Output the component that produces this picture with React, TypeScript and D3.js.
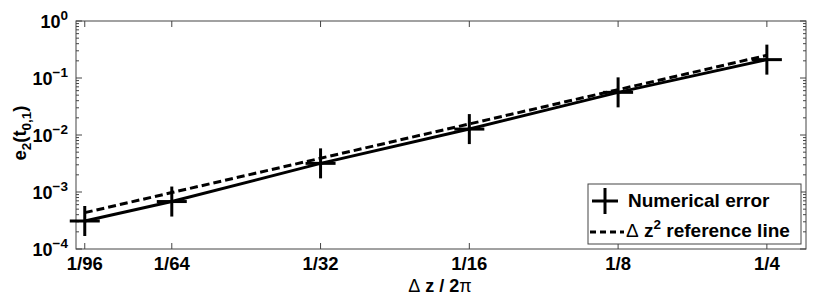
import React from 'react';
import * as d3 from 'd3';

// step sizes (dz / 2pi) and tick labels
const steps = [1 / 96, 1 / 64, 1 / 32, 1 / 16, 1 / 8, 1 / 4];
const stepLabels = ['1/96', '1/64', '1/32', '1/16', '1/8', '1/4'];

// measured error e2(t_0,1)
const numericalError = [3.1e-4, 6.8e-4, 3.18e-3, 1.27e-2, 5.6e-2, 0.21];
// dz^2 reference line
const referenceLine = [4.34e-4, 9.77e-4, 3.91e-3, 1.5625e-2, 6.25e-2, 0.25];

const yExponents = [-4, -3, -2, -1, 0];

const W = 830;
const H = 308;
const margin = { top: 21, right: 24, bottom: 59, left: 76 };

const FONT = 'Liberation Sans, Arial, Helvetica, sans-serif';

const App: React.FC = () => {
  const x = d3.scaleLog().domain([0.01, 0.3]).range([margin.left, W - margin.right]);
  const y = d3.scaleLog().domain([1e-4, 1]).range([H - margin.bottom, margin.top]);

  const x0 = margin.left;
  const x1 = W - margin.right;
  const y0 = H - margin.bottom;
  const y1 = margin.top;

  const line = d3.line<number>()
    .x((_, i) => x(steps[i]))
    .y(d => y(d));

  // minor ticks 2..9 in every decade
  const minorTicks: number[] = [];
  yExponents.slice(0, -1).forEach(e => {
    for (let k = 2; k <= 9; k++) minorTicks.push(k * Math.pow(10, e));
  });

  const axisColor = '#444';
  const markerSize = 15;

  return (
    <svg width={W} height={H} style={{ position: 'absolute', left: 0, top: 0, background: '#fff' }}
      fontFamily={FONT}>
      {/* minor y ticks */}
      {minorTicks.map((v, i) => (
        <g key={'m' + i} stroke={axisColor} strokeWidth={1}>
          <line x1={x0} x2={x0 + 3} y1={y(v)} y2={y(v)} />
          <line x1={x1} x2={x1 - 3} y1={y(v)} y2={y(v)} />
        </g>
      ))}
      {/* major y ticks + labels */}
      {yExponents.map(e => {
        const yy = y(Math.pow(10, e));
        return (
          <g key={'y' + e}>
            <line x1={x0} x2={x0 + 6} y1={yy} y2={yy} stroke={axisColor} />
            <line x1={x1} x2={x1 - 6} y1={yy} y2={yy} stroke={axisColor} />
            <text x={68} y={yy + 7} textAnchor="end" fontSize={18} fontWeight="bold">
              <tspan>10</tspan>
              <tspan dy={-8} fontSize={13.5}>{e === 0 ? '0' : '\u2212' + Math.abs(e)}</tspan>
            </text>
          </g>
        );
      })}
      {/* x ticks + labels */}
      {steps.map((s, i) => (
        <g key={'x' + i}>
          <line x1={x(s)} x2={x(s)} y1={y0} y2={y0 - 6} stroke={axisColor} />
          <line x1={x(s)} x2={x(s)} y1={y1} y2={y1 + 6} stroke={axisColor} />
          <text x={x(s)} y={270} textAnchor="middle" fontSize={18.5} fontWeight="bold">
            {stepLabels[i]}
          </text>
        </g>
      ))}
      {/* plot box */}
      <rect x={x0} y={y1} width={x1 - x0} height={y0 - y1} fill="none" stroke={axisColor} strokeWidth={1} />

      {/* reference line */}
      <path d={line(referenceLine) || ''} fill="none" stroke="#000" strokeWidth={3} strokeDasharray="8,4" />
      {/* numerical error */}
      <path d={line(numericalError) || ''} fill="none" stroke="#000" strokeWidth={3} />
      {numericalError.map((v, i) => (
        <g key={'p' + i} stroke="#000" strokeWidth={3}>
          <line x1={x(steps[i]) - markerSize} x2={x(steps[i]) + markerSize} y1={y(v)} y2={y(v)} />
          <line x1={x(steps[i])} x2={x(steps[i])} y1={y(v) - markerSize} y2={y(v) + markerSize} />
        </g>
      ))}

      {/* axis labels */}
      <text x={440} y={292} textAnchor="middle" fontSize={18} fontWeight="bold">
        <tspan fontWeight="normal">Δ</tspan> z / 2<tspan fontWeight="normal">π</tspan>
      </text>
      <text transform="translate(26,133) rotate(-90)" textAnchor="middle" fontSize={18.5} fontWeight="bold">
        <tspan>e</tspan>
        <tspan dy={5} fontSize={13.5}>2</tspan>
        <tspan dy={-5}>(t</tspan>
        <tspan dy={5} fontSize={13.5}>0,1</tspan>
        <tspan dy={-5}>)</tspan>
      </text>

      {/* legend */}
      <g>
        <rect x={588} y={184} width={213} height={60} fill="#fff" stroke={axisColor} strokeWidth={1} />
        <g stroke="#000" strokeWidth={3}>
          <line x1={592} x2={618} y1={201} y2={201} />
          <line x1={605} x2={605} y1={188} y2={214} />
        </g>
        <text x={628} y={207} fontSize={19} fontWeight="bold">Numerical error</text>
        <line x1={590} x2={624} y1={232} y2={232} stroke="#000" strokeWidth={3} strokeDasharray="6,4" />
        <text x={626} y={237} fontSize={19} fontWeight="bold">
          <tspan fontWeight="normal">Δ</tspan> z
          <tspan dy={-8} fontSize={13.5}>2</tspan>
          <tspan dy={8}> reference line</tspan>
        </text>
      </g>
    </svg>
  );
};

export default App;
